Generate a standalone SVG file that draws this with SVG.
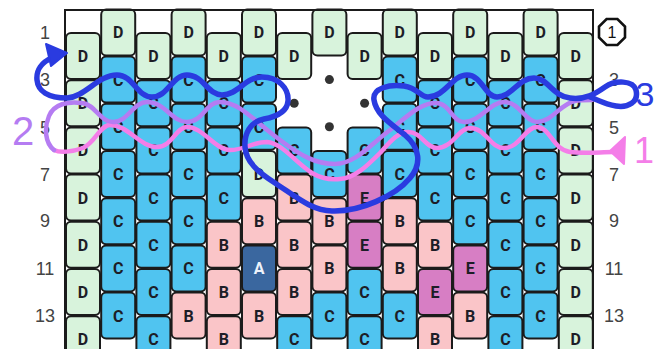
<svg xmlns="http://www.w3.org/2000/svg" xmlns:xlink="http://www.w3.org/1999/xlink" width="657" height="349" viewBox="0 0 657 349">
<style>
.D{fill:#d8f3dc}.C{fill:#50c4f0}.B{fill:#fac5c8}.E{fill:#d77ec4}.A{fill:#3a679f}
use{stroke:#1b1b1b;stroke-width:2}
.t{font-family:Roboto,'Liberation Sans',sans-serif;font-weight:bold;font-size:16px;fill:#1d1d27;text-anchor:middle}
.tw{fill:#eef3fb}
.lbl{font-family:'Liberation Sans',Arial,sans-serif;font-size:18px;fill:#444;text-anchor:middle}
.dot{fill:#333}
.th{fill:none;stroke-linecap:round;stroke-linejoin:round}
.hand{font-family:'Liberation Sans',Arial,sans-serif;text-anchor:middle}
</style>
<defs><rect id="bd" x="-17" y="-23" width="34" height="46" rx="5"/></defs>
<rect x="0" y="0" width="657" height="349" fill="#fff"/>
<g id="grid">
<g id="col0">
<g transform="translate(83,56)"><use xlink:href="#bd" class="D"/><text class="t" y="6">D</text></g>
<g transform="translate(83,103.2)"><use xlink:href="#bd" class="D"/><text class="t" y="6">D</text></g>
<g transform="translate(83,150.4)"><use xlink:href="#bd" class="D"/><text class="t" y="6">D</text></g>
<g transform="translate(83,197.6)"><use xlink:href="#bd" class="D"/><text class="t" y="6">D</text></g>
<g transform="translate(83,244.8)"><use xlink:href="#bd" class="D"/><text class="t" y="6">D</text></g>
<g transform="translate(83,292)"><use xlink:href="#bd" class="D"/><text class="t" y="6">D</text></g>
<g transform="translate(83,339.2)"><use xlink:href="#bd" class="D"/><text class="t" y="6">D</text></g>
</g>
<g id="col1">
<g transform="translate(118.2,32.4)"><use xlink:href="#bd" class="D"/><text class="t" y="6">D</text></g>
<g transform="translate(118.2,79.6)"><use xlink:href="#bd" class="C"/><text class="t" y="6">C</text></g>
<g transform="translate(118.2,126.8)"><use xlink:href="#bd" class="C"/><text class="t" y="6">C</text></g>
<g transform="translate(118.2,174)"><use xlink:href="#bd" class="C"/><text class="t" y="6">C</text></g>
<g transform="translate(118.2,221.2)"><use xlink:href="#bd" class="C"/><text class="t" y="6">C</text></g>
<g transform="translate(118.2,268.4)"><use xlink:href="#bd" class="C"/><text class="t" y="6">C</text></g>
<g transform="translate(118.2,315.6)"><use xlink:href="#bd" class="C"/><text class="t" y="6">C</text></g>
</g>
<g id="col2">
<g transform="translate(153.4,56)"><use xlink:href="#bd" class="D"/><text class="t" y="6">D</text></g>
<g transform="translate(153.4,103.2)"><use xlink:href="#bd" class="C"/><text class="t" y="6">C</text></g>
<g transform="translate(153.4,150.4)"><use xlink:href="#bd" class="C"/><text class="t" y="6">C</text></g>
<g transform="translate(153.4,197.6)"><use xlink:href="#bd" class="C"/><text class="t" y="6">C</text></g>
<g transform="translate(153.4,244.8)"><use xlink:href="#bd" class="C"/><text class="t" y="6">C</text></g>
<g transform="translate(153.4,292)"><use xlink:href="#bd" class="C"/><text class="t" y="6">C</text></g>
<g transform="translate(153.4,339.2)"><use xlink:href="#bd" class="C"/><text class="t" y="6">C</text></g>
</g>
<g id="col3">
<g transform="translate(188.6,32.4)"><use xlink:href="#bd" class="D"/><text class="t" y="6">D</text></g>
<g transform="translate(188.6,79.6)"><use xlink:href="#bd" class="C"/><text class="t" y="6">C</text></g>
<g transform="translate(188.6,126.8)"><use xlink:href="#bd" class="C"/><text class="t" y="6">C</text></g>
<g transform="translate(188.6,174)"><use xlink:href="#bd" class="C"/><text class="t" y="6">C</text></g>
<g transform="translate(188.6,221.2)"><use xlink:href="#bd" class="C"/><text class="t" y="6">C</text></g>
<g transform="translate(188.6,268.4)"><use xlink:href="#bd" class="C"/><text class="t" y="6">C</text></g>
<g transform="translate(188.6,315.6)"><use xlink:href="#bd" class="B"/><text class="t" y="6">B</text></g>
</g>
<g id="col4">
<g transform="translate(223.8,56)"><use xlink:href="#bd" class="D"/><text class="t" y="6">D</text></g>
<g transform="translate(223.8,103.2)"><use xlink:href="#bd" class="C"/><text class="t" y="6">C</text></g>
<g transform="translate(223.8,150.4)"><use xlink:href="#bd" class="C"/><text class="t" y="6">C</text></g>
<g transform="translate(223.8,197.6)"><use xlink:href="#bd" class="C"/><text class="t" y="6">C</text></g>
<g transform="translate(223.8,244.8)"><use xlink:href="#bd" class="B"/><text class="t" y="6">B</text></g>
<g transform="translate(223.8,292)"><use xlink:href="#bd" class="B"/><text class="t" y="6">B</text></g>
<g transform="translate(223.8,339.2)"><use xlink:href="#bd" class="B"/><text class="t" y="6">B</text></g>
</g>
<g id="col5">
<g transform="translate(259,32.4)"><use xlink:href="#bd" class="D"/><text class="t" y="6">D</text></g>
<g transform="translate(259,79.6)"><use xlink:href="#bd" class="C"/><text class="t" y="6">C</text></g>
<g transform="translate(259,126.8)"><use xlink:href="#bd" class="C"/><text class="t" y="6">C</text></g>
<g transform="translate(259,174)"><use xlink:href="#bd" class="D"/><text class="t" y="6">D</text></g>
<g transform="translate(259,221.2)"><use xlink:href="#bd" class="B"/><text class="t" y="6">B</text></g>
<g transform="translate(259,268.4)"><use xlink:href="#bd" class="A"/><text class="t tw" y="6">A</text></g>
<g transform="translate(259,315.6)"><use xlink:href="#bd" class="B"/><text class="t" y="6">B</text></g>
</g>
<g id="col6">
<g transform="translate(294.2,56)"><use xlink:href="#bd" class="D"/><text class="t" y="6">D</text></g>
<circle class="dot" cx="294.2" cy="103.2" r="4.5"/>
<g transform="translate(294.2,150.4)"><use xlink:href="#bd" class="C"/><text class="t" y="6">C</text></g>
<g transform="translate(294.2,197.6)"><use xlink:href="#bd" class="B"/><text class="t" y="6">B</text></g>
<g transform="translate(294.2,244.8)"><use xlink:href="#bd" class="B"/><text class="t" y="6">B</text></g>
<g transform="translate(294.2,292)"><use xlink:href="#bd" class="B"/><text class="t" y="6">B</text></g>
<g transform="translate(294.2,339.2)"><use xlink:href="#bd" class="C"/><text class="t" y="6">C</text></g>
</g>
<g id="col7">
<g transform="translate(329.4,32.4)"><use xlink:href="#bd" class="D"/><text class="t" y="6">D</text></g>
<circle class="dot" cx="329.4" cy="79.6" r="4.5"/>
<circle class="dot" cx="329.4" cy="126.8" r="4.5"/>
<g transform="translate(329.4,174)"><use xlink:href="#bd" class="C"/><text class="t" y="6">C</text></g>
<g transform="translate(329.4,221.2)"><use xlink:href="#bd" class="B"/><text class="t" y="6">B</text></g>
<g transform="translate(329.4,268.4)"><use xlink:href="#bd" class="B"/><text class="t" y="6">B</text></g>
<g transform="translate(329.4,315.6)"><use xlink:href="#bd" class="C"/><text class="t" y="6">C</text></g>
</g>
<g id="col8">
<g transform="translate(364.6,56)"><use xlink:href="#bd" class="D"/><text class="t" y="6">D</text></g>
<circle class="dot" cx="364.6" cy="103.2" r="4.5"/>
<g transform="translate(364.6,150.4)"><use xlink:href="#bd" class="C"/><text class="t" y="6">C</text></g>
<g transform="translate(364.6,197.6)"><use xlink:href="#bd" class="E"/><text class="t" y="6">E</text></g>
<g transform="translate(364.6,244.8)"><use xlink:href="#bd" class="E"/><text class="t" y="6">E</text></g>
<g transform="translate(364.6,292)"><use xlink:href="#bd" class="C"/><text class="t" y="6">C</text></g>
<g transform="translate(364.6,339.2)"><use xlink:href="#bd" class="C"/><text class="t" y="6">C</text></g>
</g>
<g id="col9">
<g transform="translate(399.8,32.4)"><use xlink:href="#bd" class="D"/><text class="t" y="6">D</text></g>
<g transform="translate(399.8,79.6)"><use xlink:href="#bd" class="C"/><text class="t" y="6">C</text></g>
<g transform="translate(399.8,126.8)"><use xlink:href="#bd" class="C"/><text class="t" y="6">C</text></g>
<g transform="translate(399.8,174)"><use xlink:href="#bd" class="C"/><text class="t" y="6">C</text></g>
<g transform="translate(399.8,221.2)"><use xlink:href="#bd" class="B"/><text class="t" y="6">B</text></g>
<g transform="translate(399.8,268.4)"><use xlink:href="#bd" class="B"/><text class="t" y="6">B</text></g>
<g transform="translate(399.8,315.6)"><use xlink:href="#bd" class="C"/><text class="t" y="6">C</text></g>
</g>
<g id="col10">
<g transform="translate(435,56)"><use xlink:href="#bd" class="D"/><text class="t" y="6">D</text></g>
<g transform="translate(435,103.2)"><use xlink:href="#bd" class="C"/><text class="t" y="6">C</text></g>
<g transform="translate(435,150.4)"><use xlink:href="#bd" class="C"/><text class="t" y="6">C</text></g>
<g transform="translate(435,197.6)"><use xlink:href="#bd" class="C"/><text class="t" y="6">C</text></g>
<g transform="translate(435,244.8)"><use xlink:href="#bd" class="B"/><text class="t" y="6">B</text></g>
<g transform="translate(435,292)"><use xlink:href="#bd" class="E"/><text class="t" y="6">E</text></g>
<g transform="translate(435,339.2)"><use xlink:href="#bd" class="B"/><text class="t" y="6">B</text></g>
</g>
<g id="col11">
<g transform="translate(470.2,32.4)"><use xlink:href="#bd" class="D"/><text class="t" y="6">D</text></g>
<g transform="translate(470.2,79.6)"><use xlink:href="#bd" class="C"/><text class="t" y="6">C</text></g>
<g transform="translate(470.2,126.8)"><use xlink:href="#bd" class="C"/><text class="t" y="6">C</text></g>
<g transform="translate(470.2,174)"><use xlink:href="#bd" class="C"/><text class="t" y="6">C</text></g>
<g transform="translate(470.2,221.2)"><use xlink:href="#bd" class="C"/><text class="t" y="6">C</text></g>
<g transform="translate(470.2,268.4)"><use xlink:href="#bd" class="E"/><text class="t" y="6">E</text></g>
<g transform="translate(470.2,315.6)"><use xlink:href="#bd" class="B"/><text class="t" y="6">B</text></g>
</g>
<g id="col12">
<g transform="translate(505.4,56)"><use xlink:href="#bd" class="D"/><text class="t" y="6">D</text></g>
<g transform="translate(505.4,103.2)"><use xlink:href="#bd" class="C"/><text class="t" y="6">C</text></g>
<g transform="translate(505.4,150.4)"><use xlink:href="#bd" class="C"/><text class="t" y="6">C</text></g>
<g transform="translate(505.4,197.6)"><use xlink:href="#bd" class="C"/><text class="t" y="6">C</text></g>
<g transform="translate(505.4,244.8)"><use xlink:href="#bd" class="C"/><text class="t" y="6">C</text></g>
<g transform="translate(505.4,292)"><use xlink:href="#bd" class="C"/><text class="t" y="6">C</text></g>
<g transform="translate(505.4,339.2)"><use xlink:href="#bd" class="C"/><text class="t" y="6">C</text></g>
</g>
<g id="col13">
<g transform="translate(540.6,32.4)"><use xlink:href="#bd" class="D"/><text class="t" y="6">D</text></g>
<g transform="translate(540.6,79.6)"><use xlink:href="#bd" class="C"/><text class="t" y="6">C</text></g>
<g transform="translate(540.6,126.8)"><use xlink:href="#bd" class="C"/><text class="t" y="6">C</text></g>
<g transform="translate(540.6,174)"><use xlink:href="#bd" class="C"/><text class="t" y="6">C</text></g>
<g transform="translate(540.6,221.2)"><use xlink:href="#bd" class="C"/><text class="t" y="6">C</text></g>
<g transform="translate(540.6,268.4)"><use xlink:href="#bd" class="C"/><text class="t" y="6">C</text></g>
<g transform="translate(540.6,315.6)"><use xlink:href="#bd" class="C"/><text class="t" y="6">C</text></g>
</g>
<g id="col14">
<g transform="translate(575.8,56)"><use xlink:href="#bd" class="D"/><text class="t" y="6">D</text></g>
<g transform="translate(575.8,103.2)"><use xlink:href="#bd" class="D"/><text class="t" y="6">D</text></g>
<g transform="translate(575.8,150.4)"><use xlink:href="#bd" class="D"/><text class="t" y="6">D</text></g>
<g transform="translate(575.8,197.6)"><use xlink:href="#bd" class="D"/><text class="t" y="6">D</text></g>
<g transform="translate(575.8,244.8)"><use xlink:href="#bd" class="D"/><text class="t" y="6">D</text></g>
<g transform="translate(575.8,292)"><use xlink:href="#bd" class="D"/><text class="t" y="6">D</text></g>
<g transform="translate(575.8,339.2)"><use xlink:href="#bd" class="D"/><text class="t" y="6">D</text></g>
</g>
<rect x="65" y="10" width="528" height="360" fill="none" stroke="#1b1b1b" stroke-width="2"/>
</g>
<g id="row-labels">
<text class="lbl" x="45" y="38.5">1</text>
<text class="lbl" x="45" y="85.5">3</text>
<text class="lbl" x="45" y="133.5">5</text>
<text class="lbl" x="45" y="180.5">7</text>
<text class="lbl" x="45" y="227">9</text>
<text class="lbl" x="45" y="274.5">11</text>
<text class="lbl" x="45" y="321.5">13</text>
<text class="lbl" x="614" y="85.5">3</text>
<text class="lbl" x="614" y="133.5">5</text>
<text class="lbl" x="614" y="180.5">7</text>
<text class="lbl" x="614" y="227">9</text>
<text class="lbl" x="614" y="274.5">11</text>
<text class="lbl" x="614" y="321.5">13</text>
<g id="start-badge">
<polygon points="606.6,19 617.4,19 625,26.6 625,37.4 617.4,45 606.6,45 599,37.4 599,26.6" fill="#fff" stroke="#111" stroke-width="2.6"/>
<text class="lbl" x="612" y="38" style="font-size:16px;fill:#111">1</text>
</g>
</g>
<g id="threads">
<g id="thread1">
<path class="th" stroke="#f47ee8" stroke-width="4.5" d="M54,150 C60,153 72,152 83,148 C95,143 100,125 110,125 C128,125 140,147 157,147 C172,147 176,127 187,127 C203,127 215,150 230,150 C245,150 252,142 267,142 C282,143 295,162 312,173 C322,179 330,180 340,179 C355,178 368,165 380,153 C390,142 398,132 408,132 C422,132 425,148 437,148 C453,148 458,128 470,128 C486,128 490,148 504,148 C520,148 525,127 537,127 C550,127 553,150 570,152 C585,154 600,152 613,152"/>
<polygon points="610,151 625,137 624,164" fill="#f47ee8" stroke="#f47ee8" stroke-width="2" stroke-linejoin="round"/>
<text class="hand" x="644" y="163" style="font-size:36px;fill:#f47ee8">1</text>
</g>
<g id="thread2">
<path class="th" stroke="#b57cf2" stroke-width="4.5" d="M54,150 C45,143 44,128 49,116 C54,104 68,101 82,103 C95,104 100,122 113,122 C128,122 133,102 147,102 C165,102 172,122 187,122 C203,122 206,102 220,102 C240,102 255,122 280,140 C300,155 315,164 335,164 C355,164 370,145 390,130 C408,116 420,103 436,103 C450,103 452,122 464,122 C480,122 490,102 504,102 C520,102 525,122 537,122 C552,122 560,104 575,101 C580,100 586,100 592,100"/>
<text class="hand" x="23" y="145" style="font-size:40px;fill:#b57cf2">2</text>
</g>
<g id="thread3">
<path class="th" stroke="#2a3be0" stroke-width="5.5" d="M52,58 C42,62 36,70 37,80 C38,91 48,98 67,98 C85,97 98,75 117,75 C133,75 137,97 152,97 C168,97 172,75 187,75 C203,75 208,95 222,95 C238,95 245,77 262,77 C278,77 289,88 288,101 C287,113 275,117 264,119 C250,122 244,134 245,147 C246,162 258,172 275,183 C295,196 312,211 332,211 C360,212 395,196 410,178 C422,164 420,148 405,135 C390,123 376,114 374,100 C372,88 390,84 404,86 C418,88 420,97 428,97 C445,97 452,75 467,75 C482,75 485,97 497,97 C512,97 518,78 534,78 C548,78 552,96 570,98 C585,100 595,94 605,87 C615,80 633,80 636,90 C639,102 628,108 616,106 C605,104 598,100 590,97"/>
<polygon points="46,44 67,53 51,66" fill="#2a3be0" stroke="#2a3be0" stroke-width="2" stroke-linejoin="round"/>
<text class="hand" x="645" y="106" style="font-size:34px;fill:#2a3be0">3</text>
</g>
</g>
</svg>
